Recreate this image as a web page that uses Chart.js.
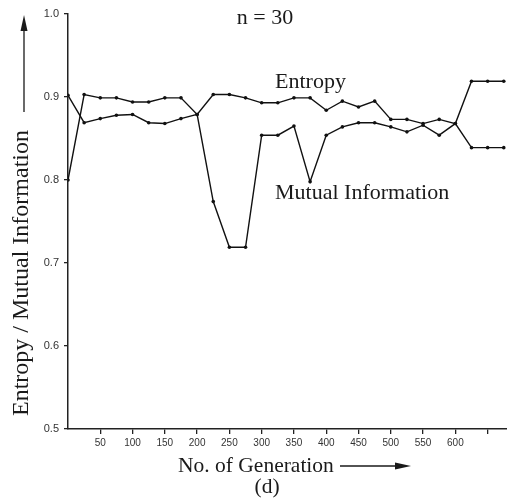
<!DOCTYPE html>
<html>
<head>
<meta charset="utf-8">
<script src="https://cdn.jsdelivr.net/npm/chart.js@4.4.1/dist/chart.umd.min.js"></script>
<style>
  html, body { margin: 0; padding: 0; background: #fff; }
  canvas { display: block; }
</style>
</head>
<body>
<canvas id="grafico" width="507" height="503"></canvas>
<script>
// geracoes (eixo x)
const geracoes = [0, 25, 50, 75, 100, 125, 150, 175, 200, 225, 250, 275, 300, 325,
    350, 375, 400, 425, 450, 475, 500, 525, 550, 575, 600, 625, 650, 675];

const entropia = [0.800, 0.903, 0.899, 0.899, 0.894, 0.894, 0.899, 0.899, 0.879, 0.903,
    0.903, 0.899, 0.893, 0.893, 0.899, 0.899, 0.884, 0.895, 0.888, 0.895,
    0.873, 0.873, 0.868, 0.873, 0.868, 0.919, 0.919, 0.919];

const infoMutua = [0.902, 0.869, 0.874, 0.878, 0.879, 0.869, 0.868, 0.874, 0.879, 0.774,
    0.719, 0.719, 0.854, 0.854, 0.865, 0.798, 0.854, 0.864, 0.869, 0.869,
    0.864, 0.858, 0.866, 0.854, 0.868, 0.839, 0.839, 0.839];

const ticksX = [50, 100, 150, 200, 250, 300, 350, 400, 450, 500, 550, 600, 650];
const rotulosX = ['50', '100', '150', '200', '250', '300', '350', '400', '450', '500', '550', '600', ''];
const ticksY = [0.5, 0.6, 0.7, 0.8, 0.9, 1.0];
const rotulosY = ['0.5', '0.6', '0.7', '0.8', '0.9', '1.0'];

const SERIF = "'Liberation Serif', 'Times New Roman', serif";

function seta(ctx, x1, y1, x2, y2) {
    const ang = Math.atan2(y2 - y1, x2 - x1);
    const comp = 16, larg = 3.5;
    ctx.beginPath();
    ctx.moveTo(x1, y1);
    ctx.lineTo(x2 - comp * Math.cos(ang), y2 - comp * Math.sin(ang));
    ctx.stroke();
    ctx.beginPath();
    ctx.moveTo(x2, y2);
    ctx.lineTo(x2 - comp * Math.cos(ang) - larg * Math.sin(ang), y2 - comp * Math.sin(ang) + larg * Math.cos(ang));
    ctx.lineTo(x2 - comp * Math.cos(ang) + larg * Math.sin(ang), y2 - comp * Math.sin(ang) - larg * Math.cos(ang));
    ctx.closePath();
    ctx.fill();
}

// textos e setas desenhados por cima
const textosPlugin = {
    id: 'textos',
    afterDraw(chart) {
        const ctx = chart.ctx;
        ctx.save();
        ctx.fillStyle = '#1a1a1a';
        ctx.strokeStyle = '#1a1a1a';
        ctx.lineWidth = 1.3;
        ctx.textBaseline = 'middle';

        ctx.font = '22px ' + SERIF;
        ctx.textAlign = 'center';
        ctx.fillText('n = 30', 265, 18);

        ctx.textAlign = 'left';
        ctx.fillText('Entropy', 275, 82);
        ctx.fillText('Mutual Information', 275, 193);
        ctx.font = '21.5px ' + SERIF;
        ctx.fillText('No. of Generation', 178, 466);

        ctx.textAlign = 'center';
        ctx.fillText('(d)', 267, 487);
        seta(ctx, 340, 466, 411, 466);

        ctx.save();
        ctx.font = '24px ' + SERIF;
        ctx.translate(22, 273);
        ctx.rotate(-Math.PI / 2);
        ctx.fillText('Entropy / Mutual Information', 0, 0);
        ctx.restore();
        seta(ctx, 24, 112, 24, 15);

        ctx.restore();
    }
};

const ctx = document.getElementById('grafico').getContext('2d');
new Chart(ctx, {
    type: 'line',
    data: {
        labels: geracoes,
        datasets: [{
            label: 'Entropy',
            data: entropia,
            borderColor: '#111',
            backgroundColor: '#111',
            borderWidth: 1.4,
            pointRadius: 1.8,
            pointBorderWidth: 0,
            tension: 0
        }, {
            label: 'Mutual Information',
            data: infoMutua,
            borderColor: '#111',
            backgroundColor: '#111',
            borderWidth: 1.4,
            pointRadius: 1.8,
            pointBorderWidth: 0,
            tension: 0
        }]
    },
    options: {
        responsive: false,
        animation: false,
        layout: { autoPadding: false, padding: { top: 14, right: 0, left: 0, bottom: 0 } },
        plugins: {
            legend: { display: false },
            tooltip: { enabled: false }
        },
        scales: {
            x: {
                type: 'linear',
                min: 0,
                max: 680,
                afterBuildTicks: function (scale) {
                    scale.ticks = ticksX.map(v => ({ value: v }));
                },
                afterFit: function (scale) {
                    scale.height = 74;
                    scale.paddingRight = 0;
                    scale.paddingLeft = 0;
                },
                border: { display: true, color: '#222', width: 1.5 },
                grid: { drawOnChartArea: false, drawTicks: true, tickLength: 5, color: '#222', lineWidth: 1.3 },
                ticks: {
                    autoSkip: false,
                    maxRotation: 0,
                    padding: 3,
                    color: '#333',
                    font: { family: "'Liberation Sans', Arial, sans-serif", size: 10 },
                    callback: function (value) {
                        const i = ticksX.indexOf(value);
                        return i >= 0 ? rotulosX[i] : '';
                    }
                }
            },
            y: {
                min: 0.5,
                max: 1.0,
                afterBuildTicks: function (scale) {
                    scale.ticks = ticksY.map(v => ({ value: v }));
                },
                afterFit: function (scale) { scale.width = 68; },
                border: { display: true, color: '#222', width: 1.5 },
                grid: { drawOnChartArea: false, drawTicks: true, tickLength: 4, color: '#222', lineWidth: 1.3 },
                ticks: {
                    padding: 5,
                    color: '#333',
                    font: { family: "'Liberation Sans', Arial, sans-serif", size: 11 },
                    callback: function (value) {
                        const i = ticksY.findIndex(t => Math.abs(t - value) < 1e-9);
                        return i >= 0 ? rotulosY[i] : '';
                    }
                }
            }
        }
    },
    plugins: [textosPlugin]
});
</script>
</body>
</html>
